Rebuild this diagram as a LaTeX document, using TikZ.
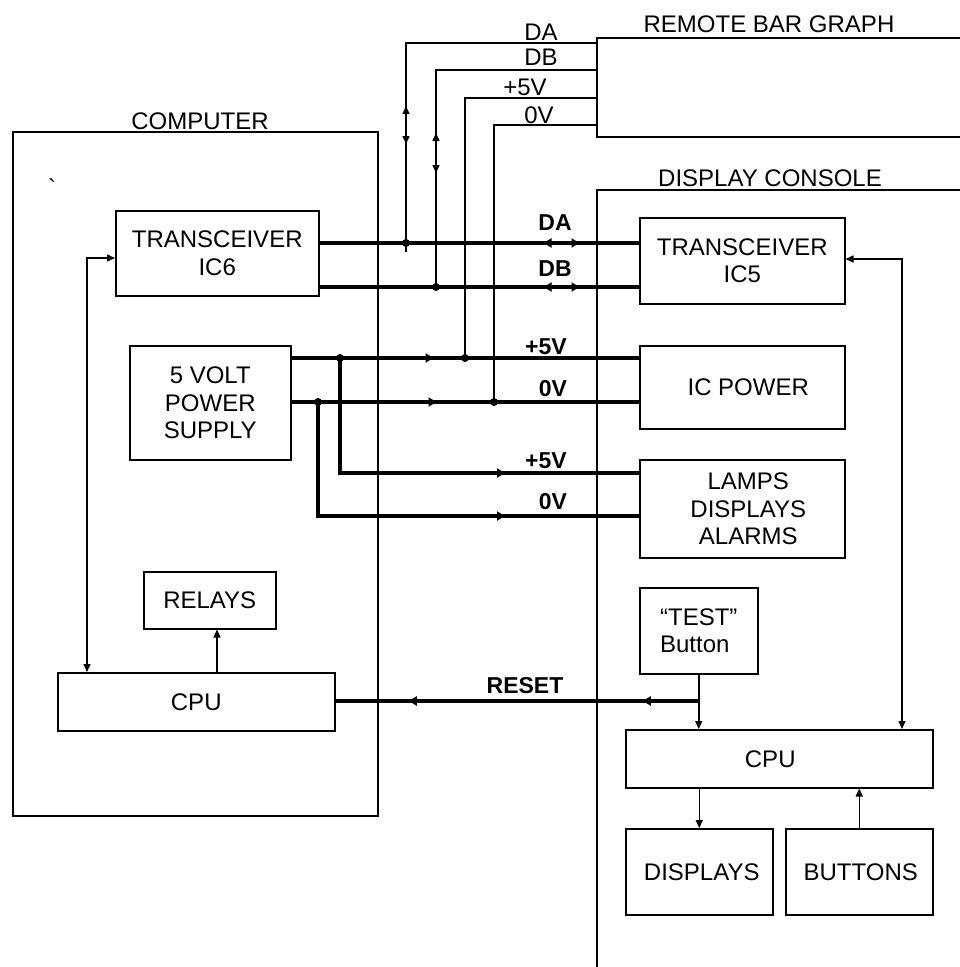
\documentclass[tikz,border=0pt]{standalone}
\usepackage{fontspec}
\setmainfont{Liberation Sans}
\newfontfamily\rawfont{Liberation Sans}[Ligatures=TeXOff]
\usetikzlibrary{arrows.meta,decorations.markings}
\tikzset{
  >={Triangle[length=8pt,width=7pt]},
  frame/.style={draw, line width=1.5pt, anchor=north west, inner sep=0pt},
  box/.style={draw, line width=1.5pt, anchor=north west, inner sep=0pt, align=center,
    font=\fontsize{24}{27.5}\selectfont},
  thinline/.style={line width=1.5pt},
  bus/.style={line width=4pt},
  lab/.style={font=\fontsize{24}{27.5}\selectfont, anchor=base, inner sep=0pt},
  blab/.style={font=\bfseries\fontsize{23}{27}\selectfont, anchor=base, inner sep=0pt},
  dot/.style={circle, fill, inner sep=0pt, minimum size=8pt},
  busarrow/.style={>={Triangle[length=8pt,width=9pt]}},
}
\begin{document}
\begin{tikzpicture}[x=1pt,y=-1pt]
\path[use as bounding box] (0,0) rectangle (960,967);
\clip (0,0) rectangle (960,967);

% frames
\node[frame, minimum width=400pt, minimum height=99pt] (RBG) at (596,37) {};
\node[frame, minimum width=365pt, minimum height=684pt] (COMP) at (12,131) {};
\node[frame, minimum width=420pt, minimum height=820pt] (DC) at (596,189) {};

\node[lab] (tRBG) at (769,32) {REMOTE BAR GRAPH};
\node[lab] (tCOMP) at (200,129) {COMPUTER};
\node[lab] (tDC) at (770,186) {DISPLAY CONSOLE};
\node[font=\rawfont\fontsize{24}{27}\selectfont, anchor=base, inner sep=0pt] (bt) at (52,196) {\symbol{96}};

% boxes
\node[box, minimum width=203pt, minimum height=85pt] (IC6) at (115,210) {TRANSCEIVER\\IC6};
\node[box, minimum width=205pt, minimum height=86pt] (IC5) at (639,217) {TRANSCEIVER\\IC5};
\node[box, minimum width=161pt, minimum height=114pt] (PSU) at (129,345) {5 VOLT\\POWER\\SUPPLY};
\node[box, minimum width=205pt, minimum height=83pt] (ICP) at (639,345) {\hspace*{12pt}IC POWER};
\node[box, minimum width=205pt, minimum height=98pt] (LDA) at (639,459) {\hspace*{12pt}LAMPS\\\hspace*{12pt}DISPLAYS\\\hspace*{12pt}ALARMS};
\node[box, minimum width=132pt, minimum height=57pt] (REL) at (143,571) {RELAYS};
\node[box, minimum width=277pt, minimum height=58pt] (CPUL) at (57,672) {CPU};
\node[box, minimum width=118pt, minimum height=86pt, align=left] (TEST) at (639,587) {“TEST”\\Button};
\node[box, minimum width=307pt, minimum height=58pt] (CPUR) at (625,729) {\hspace*{-18pt}CPU};
\node[box, minimum width=147pt, minimum height=86pt] (DISP) at (625,828) {\hspace*{5pt}DISPLAYS};
\node[box, minimum width=147pt, minimum height=86pt] (BUT) at (785,828) {\hspace*{3pt}BUTTONS};

% helper coordinates
\coordinate (yDA) at (0,243);
\coordinate (yDB) at (0,287);
\coordinate (y5) at (0,358);
\coordinate (y0) at (0,402);
\coordinate (yL5) at (0,473);
\coordinate (yL0) at (0,516);
\coordinate (yRA) at (0,43);
\coordinate (yRB) at (0,70);
\coordinate (yR5) at (0,98);
\coordinate (yR0) at (0,125);
\coordinate (yT6) at (0,258);
\coordinate (yT5) at (0,259);
\coordinate (yRST) at (0,701);
\coordinate (xL) at (87,0);
\coordinate (xR) at (902,0);
\coordinate (xRel) at (217,0);

\coordinate (jDA) at (406,243);
\coordinate (eDA) at (406,252);
\coordinate (jDB) at (436,287);
\coordinate (jP5) at (465,358);
\coordinate (jP0) at (494,402);
\coordinate (j5) at (340,358);
\coordinate (j0) at (318,402);

% thick buses
\draw[bus, busarrow, postaction={decorate}, decoration={markings,
  mark=at position 224pt with {\arrowreversed{>}},
  mark=at position 260pt with {\arrow{>}}}]
  (IC6.east |- yDA) -- (IC5.west |- yDA);
\draw[bus, busarrow, postaction={decorate}, decoration={markings,
  mark=at position 224pt with {\arrowreversed{>}},
  mark=at position 260pt with {\arrow{>}}}]
  (IC6.east |- yDB) -- (IC5.west |- yDB);
\draw[bus, busarrow, postaction={decorate}, decoration={markings,
  mark=at position 142pt with {\arrow{>}}}]
  (PSU.east |- y5) -- (ICP.west |- y5);
\draw[bus, busarrow, postaction={decorate}, decoration={markings,
  mark=at position 145pt with {\arrow{>}}}]
  (PSU.east |- y0) -- (ICP.west |- y0);
\draw[bus, busarrow, postaction={decorate}, decoration={markings,
  mark=at position 280pt with {\arrow{>}}}]
  (j5) |- (LDA.west |- yL5);
\draw[bus, busarrow, postaction={decorate}, decoration={markings,
  mark=at position 301pt with {\arrow{>}}}]
  (j0) |- (LDA.west |- yL0);

\node[blab] (lDA) at (555,230) {DA};
\node[blab] (lDB) at (555,276) {DB};
\node[blab] (l5a) at (546,354) {+5V};
\node[blab] (l0a) at (553,396) {0V};
\node[blab] (l5b) at (546,468) {+5V};
\node[blab] (l0b) at (553,509) {0V};

% remote bar graph lines
\draw[thinline, postaction={decorate}, decoration={markings,
  mark=at position 253pt with {\arrowreversed{>}},
  mark=at position 291pt with {\arrow{>}}}]
  (RBG.west |- yRA) -| (eDA);
\draw[thinline, postaction={decorate}, decoration={markings,
  mark=at position 223pt with {\arrowreversed{>}},
  mark=at position 263pt with {\arrow{>}}}]
  (RBG.west |- yRB) -| (jDB);
\draw[thinline] (RBG.west |- yR5) -| (jP5);
\draw[thinline] (RBG.west |- yR0) -| (jP0);

\node[lab] (rDA) at (541,40) {DA};
\node[lab] (rDB) at (541,65) {DB};
\node[lab] (r5) at (525,95) {+5V};
\node[lab] (r0) at (539,123) {0V};

% dots
\node[dot] (dDA) at (jDA) {};
\node[dot] (dDB) at (jDB) {};
\node[dot] (dP5) at (jP5) {};
\node[dot] (dP0) at (jP0) {};
\node[dot] (d5) at (j5) {};
\node[dot] (d0) at (j0) {};

% control connections
\draw[thinline, <->] (IC6.west |- yT6) -| (CPUL.north -| xL);
\draw[thinline, <->] (IC5.east |- yT5) -| (CPUR.north -| xR);
\draw[thinline, ->] (CPUL.north -| xRel) -- (REL.south -| xRel);
\draw[thinline, ->] (TEST.south) -- (TEST.south |- CPUR.north);
\coordinate (jR) at (TEST.south |- yRST);
\draw[bus, busarrow, postaction={decorate}, decoration={markings,
  mark=at position 56pt with {\arrow{>}},
  mark=at position 290pt with {\arrow{>}}}]
  (jR) -- (CPUL.east |- yRST);
\node[blab] (lRST) at (525,693) {RESET};
\draw[thinline, ->] (DISP.north |- CPUR.south) -- (DISP.north);
\draw[thinline, ->] (BUT.north) -- (BUT.north |- CPUR.south);
\end{tikzpicture}
\end{document}
